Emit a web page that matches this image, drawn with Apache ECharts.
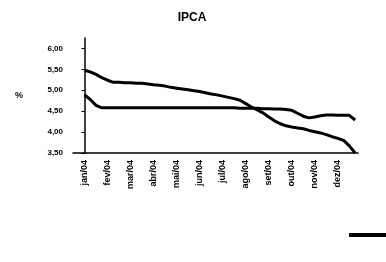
<!DOCTYPE html>
<html>
<head>
<meta charset="utf-8">
<script src="https://cdn.jsdelivr.net/npm/echarts@6/dist/echarts.min.js"></script>
<style>
  html, body { margin: 0; padding: 0; background: #fff; }
  #main { width: 386px; height: 262px; }
</style>
</head>
<body>
<div id="main"></div>
<script>
// rótulos do eixo x (um a cada 4 semanas)
var monthLabels = ['jan/04', 'fev/04', 'mar/04', 'abr/04', 'mai/04', 'jun/04',
                   'jul/04', 'ago/04', 'set/04', 'out/04', 'nov/04', 'dez/04'];

// expectativa semanal do IPCA (%)
var serieA = [5.48, 5.44, 5.38, 5.30, 5.24, 5.19, 5.19, 5.18, 5.18, 5.17, 5.17, 5.15,
              5.13, 5.12, 5.10, 5.07, 5.05, 5.03, 5.01, 4.99, 4.97, 4.94, 4.91, 4.89,
              4.86, 4.83, 4.80, 4.76, 4.68, 4.60, 4.53, 4.46, 4.36, 4.27, 4.20, 4.15,
              4.12, 4.10, 4.08, 4.04, 4.01, 3.98, 3.94, 3.89, 3.85, 3.80, 3.67, 3.50];
var serieB = [4.89, 4.78, 4.64, 4.58, 4.58, 4.58, 4.58, 4.58, 4.58, 4.58, 4.58, 4.58,
              4.58, 4.58, 4.58, 4.58, 4.58, 4.58, 4.58, 4.58, 4.58, 4.58, 4.58, 4.58,
              4.58, 4.58, 4.58, 4.57, 4.57, 4.57, 4.57, 4.56, 4.56, 4.55, 4.55, 4.54,
              4.52, 4.45, 4.38, 4.34, 4.36, 4.39, 4.41, 4.41, 4.40, 4.40, 4.40, 4.29];

function toPairs(arr) {
    return arr.map(function (v, i) { return [i, v]; });
}

var myChart = echarts.init(document.getElementById('main'));
myChart.setOption({
    animation: false,
    title: {
        text: 'IPCA',
        left: 187,
        textAlign: 'center',
        top: 7,
        textStyle: { fontFamily: 'Liberation Sans', fontSize: 12, fontWeight: 'bold', color: '#000' }
    },
    legend: {
        left: 344,
        top: 226,
        icon: 'rect',
        itemWidth: 44,
        itemHeight: 4,
        data: ['IPCA 2004'],
        textStyle: { fontSize: 8, color: '#000' }
    },
    grid: { left: 73, right: 28, top: 38, bottom: 109 },
    xAxis: {
        type: 'value',
        min: -2,
        max: 47.5,
        interval: 2,
        splitLine: { show: false },
        axisTick: { show: false },
        axisLine: { lineStyle: { color: '#000', width: 1.5 } },
        axisLabel: {
            rotate: 90,
            fontSize: 9,
            fontWeight: 'bold',
            fontFamily: 'Liberation Sans',
            color: '#000',
            margin: 7,
            showMaxLabel: false,
            formatter: function (v) {
                if (v >= 0 && v % 4 === 0 && v / 4 < monthLabels.length) return monthLabels[v / 4];
                return '';
            }
        }
    },
    yAxis: {
        type: 'value',
        min: 3.5,
        max: 6.25,
        interval: 0.5,
        name: '%',
        nameLocation: 'middle',
        nameRotate: 0,
        nameGap: 50,
        nameTextStyle: { fontSize: 9, fontWeight: 'bold', color: '#000' },
        splitLine: { show: false },
        axisLine: { show: true, lineStyle: { color: '#000', width: 1.5 } },
        axisTick: { show: true, length: 3, lineStyle: { color: '#000' } },
        axisLabel: {
            fontSize: 8,
            fontWeight: 'bold',
            fontFamily: 'Liberation Sans',
            color: '#000',
            margin: 10,
            showMaxLabel: false,
            formatter: function (v) { return v.toFixed(2).replace('.', ','); }
        }
    },
    series: [{
        name: 'IPCA 2004',
        type: 'line',
        data: toPairs(serieA),
        showSymbol: false,
        lineStyle: { color: '#000', width: 3 },
        itemStyle: { color: '#000' }
    }, {
        name: 'IPCA 2005',
        type: 'line',
        data: toPairs(serieB),
        showSymbol: false,
        lineStyle: { color: '#000', width: 3 },
        itemStyle: { color: '#000' }
    }]
});
</script>
</body>
</html>
